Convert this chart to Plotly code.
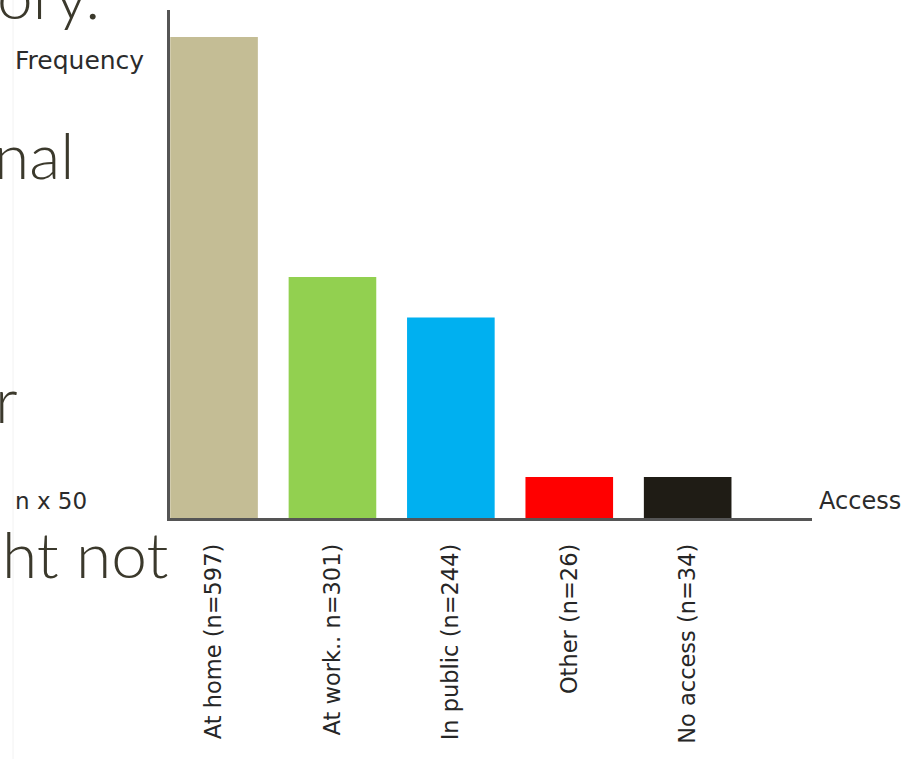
import plotly.graph_objects as go

categories = ["At home (n=597)", "At work.. n=301)", "In public (n=244)", "Other (n=26)", "No access (n=34)"]
frequency = [597, 299, 249, 51, 51]
bar_colors = ["#c4bd95", "#92d050", "#00b0f0", "#ff0000", "#1f1c15"]

W, H = 912, 759
L, R, T, B = 170, 100, 10, 241
PW, PH = W - L - R, H - T - B


def px(x):
    return (x - L) / PW


def py(y):
    return (H - B - y) / PH


fig = go.Figure(
    go.Bar(
        x=categories,
        y=frequency,
        marker=dict(color=bar_colors, line=dict(width=0)),
        width=0.74,
    )
)

fig.update_layout(
    width=W,
    height=H,
    margin=dict(l=L, r=R, t=T, b=B, autoexpand=False),
    paper_bgcolor="white",
    plot_bgcolor="white",
    showlegend=False,
)

fig.update_xaxes(
    range=[-0.372, 5.05],
    automargin=False,
    showline=True,
    linecolor="#555555",
    linewidth=2.5,
    showgrid=False,
    zeroline=False,
    ticks="",
    tickangle=-90,
    tickfont=dict(family="DejaVu Sans", size=22.5, color="#262626"),
    ticklabelstandoff=14,
)
fig.update_yaxes(
    range=[0, 630.5],
    automargin=False,
    showline=True,
    linecolor="#555555",
    linewidth=2.5,
    showgrid=False,
    zeroline=False,
    showticklabels=False,
    ticks="",
)

fig.add_annotation(text="Frequency", xref="paper", yref="paper", x=px(13), y=py(60),
                   xanchor="left", yanchor="middle", showarrow=False,
                   font=dict(family="DejaVu Sans", size=25, color="#2b2b2b"))
fig.add_annotation(text="n x 50", xref="paper", yref="paper", x=px(13), y=py(501),
                   xanchor="left", yanchor="middle", showarrow=False,
                   font=dict(family="DejaVu Sans", size=23, color="#2b2b2b"))
fig.add_annotation(text="Access", xref="paper", yref="paper", x=px(817), y=py(501),
                   xanchor="left", yanchor="middle", showarrow=False,
                   font=dict(family="DejaVu Sans", size=24, color="#2b2b2b"))

slide_font = dict(family="Lato", size=64, color="#3b392c", weight=300)
fig.add_annotation(text="ory.", xref="paper", yref="paper", x=px(102), y=py(-6),
                   xanchor="right", yanchor="middle", showarrow=False, font=slide_font)
fig.add_annotation(text="nal", xref="paper", yref="paper", x=px(76), y=py(154),
                   xanchor="right", yanchor="middle", showarrow=False, font=slide_font)
fig.add_annotation(text="r", xref="paper", yref="paper", x=px(20), y=py(398),
                   xanchor="right", yanchor="middle", showarrow=False, font=slide_font)
fig.add_annotation(text="ht not", xref="paper", yref="paper", x=px(170), y=py(553),
                   xanchor="right", yanchor="middle", showarrow=False, font=slide_font)

fig.add_shape(type="line", xref="paper", yref="paper", x0=px(13), x1=px(13), y0=py(0), y1=py(759),
              line=dict(color="#f2f2f2", width=1))

fig.write_html("out.html")
